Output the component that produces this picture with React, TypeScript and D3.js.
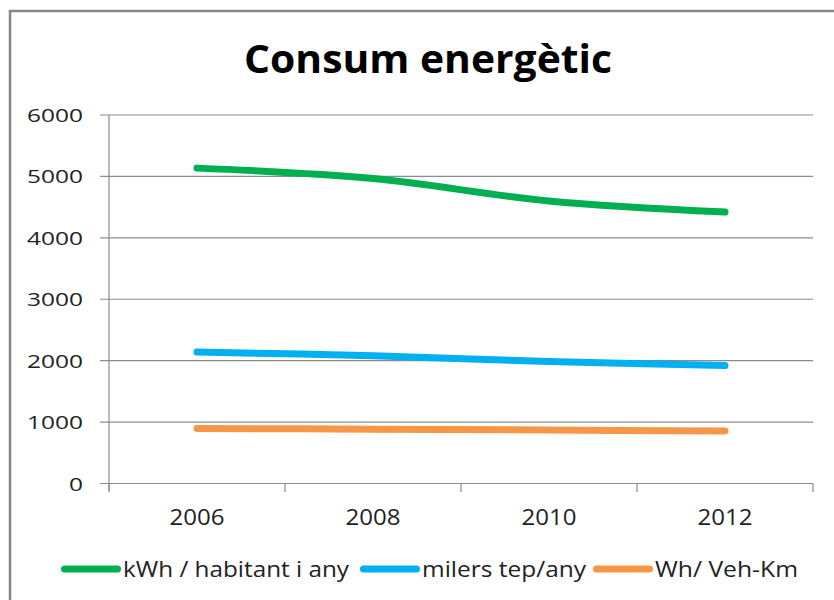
import React from "react";
import * as d3 from "d3";

const categories = ["2006", "2008", "2010", "2012"];
const seriesNames = ["kWh / habitant i any", "milers tep/any", "Wh/ Veh-Km"];
const kwhValues = [5135, 4965, 4600, 4420];
const tepValues = [2140, 2080, 1985, 1920];
const whValues = [895, 885, 870, 855];
const yTicks = [0, 1000, 2000, 3000, 4000, 5000, 6000];
const colors = ["#00B050", "#00B0F0", "#F79646"];
const title = "Consum energètic";

const FONT = "'Open Sans', 'Noto Sans', sans-serif";

export default function App() {
  const W = 834, H = 600;
  const x = d3.scaleBand<string>().domain(categories).range([109, 813]).padding(0);
  const y = d3.scaleLinear().domain([0, 6000]).range([483.5, 115]);
  const cx = (c: string) => (x(c) as number) + x.bandwidth() / 2;
  const series = [kwhValues, tepValues, whValues];
  const line = d3
    .line<number>()
    .x((_, i) => cx(categories[i]))
    .y((v) => y(v))
    .curve(d3.curveCardinal.tension(0));

  const legendItems = [
    { lx: 61, tx: 123, tw: 226 },
    { lx: 360, tx: 422, tw: 164 },
    { lx: 593, tx: 655, tw: 143 },
  ];
  const grid = "#8c8c8c";

  return (
    <svg
      width={W}
      height={H}
      style={{ position: "absolute", left: 0, top: 0, background: "#fff" }}
    >
      <rect x={10} y={11} width={900} height={700} fill="#fff" stroke="#868686" strokeWidth={2.5} />
      <text
        x={244}
        y={73}
        fontFamily={FONT}
        fontWeight="bold"
        fontSize={40}
        textLength={368}
        lengthAdjust="spacingAndGlyphs"
        fill="#000"
      >
        {title}
      </text>
      {yTicks.map((t) => (
        <g key={t}>
          <line x1={100} x2={813} y1={y(t)} y2={y(t)} stroke={grid} strokeWidth={1.2} />
          <text
            x={83}
            y={y(t) + 7}
            textAnchor="end"
            fontFamily={FONT}
            fontSize={19}
            textLength={14 * String(t).length}
            lengthAdjust="spacingAndGlyphs"
            fill="#222"
          >
            {t}
          </text>
        </g>
      ))}
      <line x1={109} x2={109} y1={115} y2={491} stroke={grid} strokeWidth={1.2} />
      {[...categories.map((c) => x(c) as number), 813].map((p, i) => (
        <line key={i} x1={p} x2={p} y1={483.5} y2={492} stroke={grid} strokeWidth={1.2} />
      ))}
      {categories.map((c) => (
        <text
          key={c}
          x={cx(c)}
          y={525}
          textAnchor="middle"
          fontFamily={FONT}
          fontSize={21}
          textLength={55}
          lengthAdjust="spacingAndGlyphs"
          fill="#222"
        >
          {c}
        </text>
      ))}
      {series.map((s, i) => (
        <path
          key={i}
          d={line(s) || ""}
          fill="none"
          stroke={colors[i]}
          strokeWidth={7}
          strokeLinecap="round"
          strokeLinejoin="round"
        />
      ))}
      {legendItems.map((it, i) => (
        <g key={i}>
          <line
            x1={it.lx + 3.5}
            x2={it.lx + 56.5}
            y1={569}
            y2={569}
            stroke={colors[i]}
            strokeWidth={7}
            strokeLinecap="round"
          />
          <text
            x={it.tx}
            y={577}
            fontFamily={FONT}
            fontSize={21}
            textLength={it.tw}
            lengthAdjust="spacingAndGlyphs"
            fill="#222"
          >
            {seriesNames[i]}
          </text>
        </g>
      ))}
    </svg>
  );
}
